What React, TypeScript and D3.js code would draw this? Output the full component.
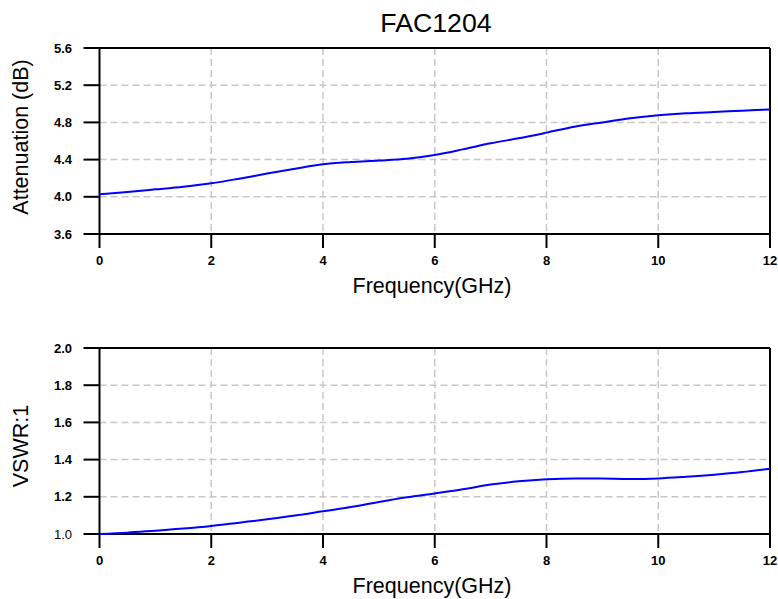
/* eslint-disable */
import React, { useEffect, useRef } from 'react';
import * as d3 from 'd3';

// ------- Data -------
const freq = [0, 0.5, 1, 1.5, 2, 2.5, 3, 3.5, 4, 4.5, 5, 5.5, 6, 6.5, 7, 7.5, 8, 8.5, 9, 9.5, 10, 10.5, 11, 11.5, 12];
const attenuation = [
  4.027, 4.052, 4.08, 4.109, 4.145, 4.195, 4.25, 4.302, 4.35, 4.374, 4.39, 4.41, 4.45,
  4.51, 4.575, 4.629, 4.69, 4.754, 4.8, 4.844, 4.876, 4.898, 4.912, 4.926, 4.94,
];
const vswr = [
  1.0, 1.007, 1.018, 1.029, 1.043, 1.061, 1.079, 1.099, 1.122, 1.145, 1.172, 1.197, 1.218,
  1.24, 1.266, 1.283, 1.294, 1.299, 1.298, 1.296, 1.299, 1.308, 1.319, 1.333, 1.351,
];
const xTicks = [0, 2, 4, 6, 8, 10, 12];
const attTicks = [3.6, 4.0, 4.4, 4.8, 5.2, 5.6];
const vswrTicks = [1.0, 1.2, 1.4, 1.6, 1.8, 2.0];

const title = 'FAC1204';
const xLabel = 'Frequency(GHz)';

const W = 778;
const H = 599;
const FONT = "'Liberation Sans', Arial, sans-serif";

function drawPanel(
  svg: d3.Selection<SVGSVGElement, unknown, null, undefined>,
  opts: {
    top: number;
    bottom: number;
    values: number[];
    yTicks: number[];
    yLabel: string;
    yLabelCenter: number;
    lightTicks: number[];
  }
) {
  const left = 99.5;
  const right = 770;
  const { top, bottom, values, yTicks, yLabel, yLabelCenter, lightTicks } = opts;

  const x = d3.scaleLinear().domain([0, 12]).range([left, right]);
  const y = d3
    .scaleLinear()
    .domain([yTicks[0], yTicks[yTicks.length - 1]])
    .range([bottom, top]);

  const g = svg.append('g');

  // ------- Grid -------
  g.selectAll('line.vgrid')
    .data(xTicks.slice(1, -1))
    .enter()
    .append('line')
    .attr('x1', (d) => x(d))
    .attr('x2', (d) => x(d))
    .attr('y1', top)
    .attr('y2', bottom)
    .attr('stroke', '#c8c8c8')
    .attr('stroke-width', 1.5)
    .attr('stroke-dasharray', '7,4');

  g.selectAll('line.hgrid')
    .data(yTicks.slice(1, -1))
    .enter()
    .append('line')
    .attr('x1', left)
    .attr('x2', right)
    .attr('y1', (d) => y(d))
    .attr('y2', (d) => y(d))
    .attr('stroke', '#c8c8c8')
    .attr('stroke-width', 1.5)
    .attr('stroke-dasharray', '7,4');

  // ------- Frame and ticks -------
  const tickLen = 16;
  g.selectAll('line.ytick')
    .data(yTicks)
    .enter()
    .append('line')
    .attr('x1', left - tickLen)
    .attr('x2', (d, i) => (i === 0 || i === yTicks.length - 1 ? right : left))
    .attr('y1', (d) => y(d))
    .attr('y2', (d) => y(d))
    .attr('stroke', '#000')
    .attr('stroke-width', 2);

  g.selectAll('line.xtick')
    .data(xTicks)
    .enter()
    .append('line')
    .attr('x1', (d) => x(d))
    .attr('x2', (d) => x(d))
    .attr('y1', (d, i) => (i === 0 || i === xTicks.length - 1 ? top : bottom))
    .attr('y2', bottom + 14)
    .attr('stroke', '#000')
    .attr('stroke-width', 2);

  // ------- Tick labels -------
  g.selectAll('text.ylab')
    .data(yTicks)
    .enter()
    .append('text')
    .attr('x', 72)
    .attr('y', (d) => y(d))
    .attr('dy', '0.35em')
    .attr('text-anchor', 'end')
    .attr('font-family', FONT)
    .attr('font-size', 13)
    .attr('font-weight', (d) => (lightTicks.includes(d) ? 'normal' : 'bold'))
    .text((d) => d.toFixed(1));

  g.selectAll('text.xlab')
    .data(xTicks)
    .enter()
    .append('text')
    .attr('x', (d) => x(d))
    .attr('y', bottom + 31)
    .attr('text-anchor', 'middle')
    .attr('font-family', FONT)
    .attr('font-size', 13)
    .attr('font-weight', 'bold')
    .text((d) => String(d));

  // ------- Axis titles -------
  g.append('text')
    .attr('x', 432)
    .attr('y', bottom + 59)
    .attr('text-anchor', 'middle')
    .attr('font-family', FONT)
    .attr('font-size', 21.5)
    .text(xLabel);

  g.append('text')
    .attr('transform', `translate(28, ${yLabelCenter}) rotate(-90)`)
    .attr('text-anchor', 'middle')
    .attr('font-family', FONT)
    .attr('font-size', 21.5)
    .text(yLabel);

  // ------- Series -------
  const pts = freq.map((f, i) => ({ f, v: values[i] }));
  const line = d3
    .line<{ f: number; v: number }>()
    .x((d) => x(d.f))
    .y((d) => y(d.v))
    .curve(d3.curveMonotoneX);

  g.append('path')
    .datum(pts)
    .attr('fill', 'none')
    .attr('stroke', '#0000ff')
    .attr('stroke-width', 2)
    .attr('d', line);
}

export default function App() {
  const ref = useRef<SVGSVGElement>(null);

  useEffect(() => {
    if (!ref.current) return;
    const svg = d3.select(ref.current);
    svg.selectAll('*').remove();

    svg.append('rect').attr('width', W).attr('height', H).attr('fill', '#fff');

    svg.append('text')
      .attr('x', 436)
      .attr('y', 31.5)
      .attr('text-anchor', 'middle')
      .attr('font-family', FONT)
      .attr('font-size', 26.7)
      .text(title);

    drawPanel(svg, {
      top: 48,
      bottom: 234,
      values: attenuation,
      yTicks: attTicks,
      yLabel: 'Attenuation (dB)',
      yLabelCenter: 137,
      lightTicks: [],
    });

    drawPanel(svg, {
      top: 348,
      bottom: 534,
      values: vswr,
      yTicks: vswrTicks,
      yLabel: 'VSWR:1',
      yLabelCenter: 446,
      lightTicks: [1.0],
    });
  }, []);

  return (
    <svg
      ref={ref}
      width={W}
      height={H}
      style={{ position: 'absolute', left: 0, top: 0, display: 'block' }}
    />
  );
}
